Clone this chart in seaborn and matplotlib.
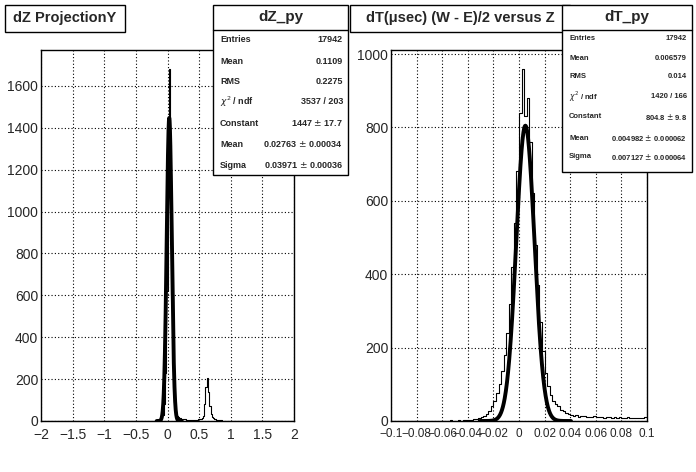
import numpy as np
import pandas as pd
import matplotlib
matplotlib.use("Agg")
import matplotlib.pyplot as plt
import seaborn as sns
from matplotlib.patches import Rectangle
from matplotlib.ticker import MultipleLocator, AutoMinorLocator

sns.set_style("white")
plt.rcParams['font.family'] = ['Liberation Sans', 'DejaVu Sans']

# ---- Left histogram: dZ (bin width 0.02) ----
dz_centers = [-0.13, -0.11, -0.09, -0.07, -0.05, -0.03, -0.01, 0.01, 0.03, 0.05, 0.07, 0.09,
              0.11, 0.13, 0.15, 0.17, 0.19, 0.21, 0.23, 0.25, 0.27, 0.29, 0.31, 0.33, 0.35,
              0.37, 0.39, 0.41, 0.43, 0.45, 0.47, 0.49, 0.51, 0.53, 0.55, 0.57, 0.59, 0.61,
              0.63, 0.65, 0.67, 0.69, 0.71, 0.73, 0.75, 0.77, 0.79, 0.81, 0.83, 0.85, 0.87]
dz_counts = [3, 6, 12, 30, 80, 230, 620, 1250, 1680, 1180, 600, 240,
             90, 40, 25, 18, 15, 12, 10, 9, 8, 8, 7, 7, 7,
             7, 6, 7, 6, 7, 7, 8, 9, 10, 12, 25, 80, 160,
             205, 140, 70, 35, 18, 12, 8, 6, 5, 4, 3, 3, 2]
dz_fit = dict(const=1447, mean=0.02763, sigma=0.03971)

# ---- Right histogram: dT (bin width 0.002) ----
dt_counts = [1, 0, 1, 0, 0, 1, 0, 1, 0, 0, 1, 0, 1, 1, 0, 1, 0, 1, 0, 1, 1, 0, 1, 2, 1, 1, 2, 1, 2, 3,
             3, 4, 5, 6, 8, 10, 14, 20, 28, 40,
             55, 75, 100, 135, 180, 240, 320, 420, 540, 680,
             840, 960, 830, 880, 760,
             620, 480, 370, 270, 190,
             130, 95, 70, 55, 45, 40, 30, 28, 22, 18,
             16, 14, 15, 12, 14, 13, 11, 12, 10, 13, 11, 10, 12, 9, 11, 10, 9, 11, 8, 10,
             9, 8, 10, 9, 8, 9, 7, 8, 9, 10]
dt_centers = list(np.round(np.arange(-0.099, 0.1, 0.002), 4))
dt_fit = dict(const=804.8, mean=0.004982, sigma=0.007127)

stats_left = ("dZ_py", [("Entries", "17942"), ("Mean", "0.1109"), ("RMS", "0.2275"),
                        (r"$\chi^2$ / ndf", "3537 / 203"), ("Constant", "1447 $\\pm$ 17.7"),
                        ("Mean", "0.02763 $\\pm$ 0.00034"), ("Sigma", "0.03971 $\\pm$ 0.00036")])
stats_right = ("dT_py", [("Entries", "17942"), ("Mean", "0.006579"), ("RMS", "0.014"),
                         (r"$\chi^2$ / ndf", "1420 / 166"), ("Constant", "804.8 $\\pm$ 9.8"),
                         ("Mean", "0.004982 $\\pm$ 0.000062"), ("Sigma", "0.007127 $\\pm$ 0.000064")])

W, H = 696, 472
fig = plt.figure(figsize=(W / 100, H / 100), dpi=100)

def ax_at(x0, y0, x1, y1):
    return fig.add_axes([x0 / W, 1 - y1 / H, (x1 - x0) / W, (y1 - y0) / H])

def fx(x): return x / W
def fy(y): return 1 - y / H

def panel(ax, centers, counts, bw, xlim, ylim, fit, xmaj, xminor, ymaj, fmt, xfs):
    df = pd.DataFrame({"x": centers, "w": counts})
    sns.histplot(data=df, x="x", weights="w", binwidth=bw, binrange=(xlim[0], xlim[1]),
                 element="step", fill=False, color="black", linewidth=0.8, ax=ax)
    xs = np.linspace(fit["mean"] - 5 * fit["sigma"], fit["mean"] + 5 * fit["sigma"], 400)
    ys = fit["const"] * np.exp(-0.5 * ((xs - fit["mean"]) / fit["sigma"]) ** 2)
    sns.lineplot(x=xs, y=ys, color="black", linewidth=2.8, ax=ax)
    ax.set_xlim(*xlim); ax.set_ylim(*ylim)
    ax.set_xlabel(""); ax.set_ylabel("")
    ax.xaxis.set_major_locator(MultipleLocator(xmaj))
    ax.xaxis.set_minor_locator(MultipleLocator(xminor))
    ax.yaxis.set_major_locator(MultipleLocator(ymaj))
    ax.yaxis.set_minor_locator(AutoMinorLocator(4))
    ax.grid(True, which="major", linestyle=(0, (1, 2)), color="black", linewidth=0.8)
    ax.tick_params(which="both", direction="in", top=False, right=False)
    ax.tick_params(axis="x", labelsize=xfs, pad=5)
    ax.tick_params(axis="y", labelsize=10, pad=2)
    ax.tick_params(which="major", length=8)
    ax.tick_params(which="minor", length=4)
    ax.xaxis.set_major_formatter(matplotlib.ticker.FuncFormatter(fmt))
    for s in ax.spines.values():
        s.set_color("black"); s.set_linewidth(1)

ax1 = ax_at(41, 50, 294, 421)
panel(ax1, dz_centers, dz_counts, 0.02, (-2, 2), (0, 1771), dz_fit, 0.5, 0.1, 200,
      lambda v, p: ("%g" % v).replace("-", "\u2212"), 10)
ax2 = ax_at(391, 50, 647, 421)
panel(ax2, dt_centers, dt_counts, 0.002, (-0.1, 0.1), (0, 1011), dt_fit, 0.02, 0.004, 200,
      lambda v, p: ("0" if abs(v) < 1e-9 else "%g" % round(v, 3)).replace("-", "\u2212"), 8.5)

def box(x0, y0, x1, y1, lw=1):
    fig.add_artist(Rectangle((fx(x0), fy(y1)), (x1 - x0) / W, (y1 - y0) / H,
                             transform=fig.transFigure, facecolor="white",
                             edgecolor="black", linewidth=lw, zorder=10))

# title boxes
box(5, 5, 125, 32)
fig.text(fx(65), fy(18), "dZ ProjectionY", ha="center", va="center", fontsize=10.5,
         fontweight="bold", zorder=11)
box(350, 5, 570, 32)
fig.text(fx(460), fy(18), "dT(\u03bcsec) (W - E)/2 versus Z", ha="center", va="center",
         fontsize=10.5, fontweight="bold", zorder=11)

def stats(x0, x1, y1, title, rows, rowy, fs):
    box(x0, 5, x1, y1)
    fig.add_artist(plt.Line2D([fx(x0), fx(x1)], [fy(30), fy(30)], transform=fig.transFigure,
                              color="black", linewidth=1, zorder=11))
    fig.text(fx((x0 + x1) / 2), fy(17), title, ha="center", va="center", fontsize=11,
             fontweight="bold", zorder=12)
    for (k, v), y in zip(rows, rowy):
        fig.text(fx(x0 + 7), fy(y), k, ha="left", va="center", fontsize=fs,
                 fontweight="bold", zorder=12)
        fig.text(fx(x1 - 5), fy(y), v, ha="right", va="center", fontsize=fs,
                 fontweight="bold", zorder=12)

stats(213, 348, 175, stats_left[0], stats_left[1], [39, 61, 81, 102, 123, 144, 165], 6.5)
stats(562, 692, 172, stats_right[0], stats_right[1], [38, 58, 76, 97, 117, 138, 157], 5.5)

fig.savefig("out.png", dpi=100)
